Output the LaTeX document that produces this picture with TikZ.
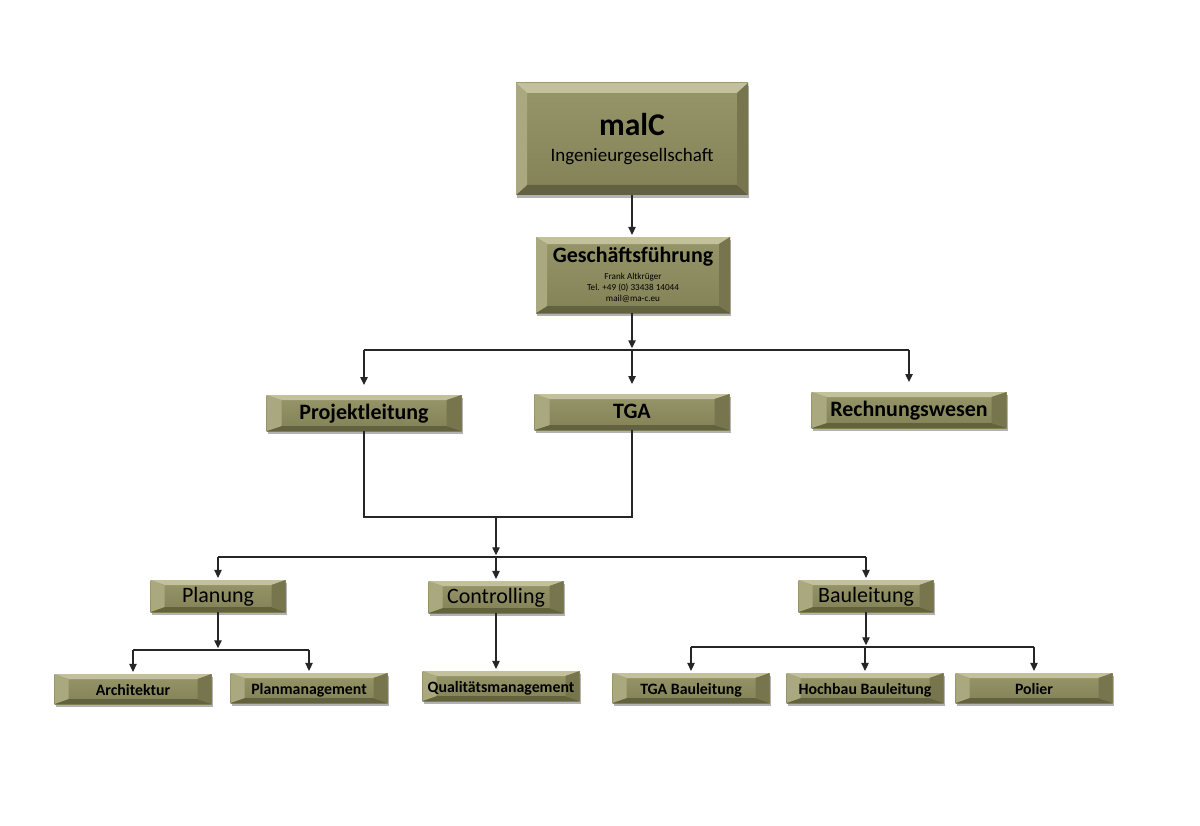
\documentclass[tikz,border=0pt]{standalone}
\usepackage{fontspec}
\setmainfont{Carlito}
\usetikzlibrary{arrows.meta, shadows}

\definecolor{faceTop}{HTML}{979669}
\definecolor{faceBot}{HTML}{838257}
\definecolor{bevTop}{HTML}{C2C19B}
\definecolor{bevBot}{HTML}{626140}
\definecolor{bevLeft}{HTML}{A9A87F}
\definecolor{bevRight}{HTML}{76754D}

\newcommand\bevel[2]{%
\fill[bevTop] (path picture bounding box.north west) -- (path picture bounding box.north east) -- ([xshift=-#1,yshift=-#2]path picture bounding box.north east) -- ([xshift=#1,yshift=-#2]path picture bounding box.north west) -- cycle;
\fill[bevBot] (path picture bounding box.south west) -- (path picture bounding box.south east) -- ([xshift=-#1,yshift=#2]path picture bounding box.south east) -- ([xshift=#1,yshift=#2]path picture bounding box.south west) -- cycle;
\fill[bevLeft] (path picture bounding box.north west) -- ([xshift=#1,yshift=-#2]path picture bounding box.north west) -- ([xshift=#1,yshift=#2]path picture bounding box.south west) -- (path picture bounding box.south west) -- cycle;
\fill[bevRight] (path picture bounding box.north east) -- ([xshift=-#1,yshift=-#2]path picture bounding box.north east) -- ([xshift=-#1,yshift=#2]path picture bounding box.south east) -- (path picture bounding box.south east) -- cycle;
}

\begin{document}
\begin{tikzpicture}[
orgbox/.style={draw=none, top color=faceTop, bottom color=faceBot, inner sep=0pt, text=black, drop shadow={shadow xshift=0.02cm, shadow yshift=-0.06cm, opacity=0.3, fill=black}},
bigbox/.style={orgbox, align=center, minimum width=4.64cm, minimum height=2.24cm, path picture={\bevel{0.22cm}{0.2cm}}, font=\fontsize{10.8pt}{13.5pt}\selectfont},
gfbox/.style={orgbox, align=center, minimum width=3.88cm, minimum height=1.52cm, path picture={\bevel{0.22cm}{0.14cm}}, font=\fontsize{5.2pt}{6.3pt}\selectfont},
headbox/.style={orgbox, minimum width=3.9cm, minimum height=0.72cm, text height=1.65ex, text depth=0pt, path picture={\bevel{0.3cm}{0.1cm}}, font=\fontsize{12.5pt}{14pt}\selectfont\bfseries},
deptbox/.style={orgbox, minimum width=2.7cm, minimum height=0.64cm, text height=1.6ex, text depth=0pt, path picture={\bevel{0.28cm}{0.1cm}}, font=\fontsize{12.5pt}{14pt}\selectfont},
unitbox/.style={orgbox, minimum width=3.14cm, minimum height=0.6cm, text height=1.6ex, text depth=0pt, path picture={\bevel{0.28cm}{0.1cm}}, font=\fontsize{9pt}{10pt}\selectfont\bfseries},
conn/.style={draw=black!85, line width=0.6pt},
arr/.style={conn, -{Triangle[length=4.5pt, width=4.2pt]}, shorten >=1pt}
]
\useasboundingbox (0cm, 0cm) rectangle (24cm, 16.5cm);
\node[bigbox] (firm) at (12.64cm, 13.72cm) {{\fontsize{18pt}{19pt}\selectfont\bfseries malC}\\[1pt]Ingenieurgesellschaft};
\node[gfbox] (gf) at (12.66cm, 11.0cm) {{\fontsize{12.5pt}{14pt}\selectfont\bfseries Geschäftsführung}\\[3.5pt]Frank Altkrüger\\Tel. +49 (0) 33438 14044\\mail@ma-c.eu};
\node[headbox] (pl) at (7.28cm, 8.24cm) {Projektleitung};
\node[headbox] (tga) at (12.64cm, 8.26cm) {TGA};
\node[headbox] (rw) at (18.18cm, 8.30cm) {Rechnungswesen};
\node[deptbox] (plan) at (4.36cm, 4.58cm) {Planung};
\node[deptbox] (ctrl) at (9.92cm, 4.56cm) {Controlling};
\node[deptbox] (bau) at (17.32cm, 4.58cm) {Bauleitung};
\node[unitbox] (arch) at (2.66cm, 2.72cm) {Architektur};
\node[unitbox] (pm) at (6.18cm, 2.74cm) {Planmanagement};
\node[unitbox] (qm) at (10.02cm, 2.78cm) {Qualitätsmanagement};
\node[unitbox] (tgab) at (13.82cm, 2.74cm) {TGA Bauleitung};
\node[unitbox] (hb) at (17.30cm, 2.74cm) {Hochbau Bauleitung};
\node[unitbox] (pol) at (20.68cm, 2.74cm) {Polier};

\coordinate (gfjoin) at (12.64cm, 9.50cm);
\coordinate (pljoin) at (9.92cm, 6.16cm);
\coordinate (depjoin) at (9.92cm, 5.36cm);
\coordinate (planjoin) at (4.36cm, 3.50cm);
\coordinate (baujoin) at (17.32cm, 3.56cm);

\draw[arr] (firm.south -| gfjoin) -- (gf.north -| gfjoin);
\draw[arr] (gf.south -| gfjoin) -- (gfjoin);
\draw[conn] (gfjoin -| pl.north) -- (gfjoin -| rw.north);
\draw[arr, shorten >=5.5pt] (gfjoin -| pl.north) -- (pl.north);
\draw[arr, shorten >=5.5pt] (gfjoin -| tga.north) -- (tga.north);
\draw[arr, shorten >=5.5pt] (gfjoin -| rw.north) -- (rw.north);
\draw[conn] (pl.south) |- (pljoin) -| (tga.south);
\draw[arr] (pljoin) -- (depjoin);
\draw[conn] (depjoin -| plan.north) -- (depjoin -| bau.north);
\draw[arr] (depjoin -| plan.north) -- (plan.north);
\draw[arr] (depjoin -| ctrl.north) -- (ctrl.north);
\draw[arr] (depjoin -| bau.north) -- (bau.north);
\draw[arr] (plan.south) -- (planjoin);
\draw[conn] (planjoin -| arch.north) -- (planjoin -| pm.north);
\draw[arr] (planjoin -| arch.north) -- (arch.north);
\draw[arr] (planjoin -| pm.north) -- (pm.north);
\draw[arr] (ctrl.south) -- (ctrl.south |- qm.north);
\draw[arr] (bau.south) -- (baujoin);
\draw[conn] (baujoin -| tgab.north) -- (baujoin -| pol.north);
\draw[arr] (baujoin -| tgab.north) -- (tgab.north);
\draw[arr] (baujoin -| hb.north) -- (hb.north);
\draw[arr] (baujoin -| pol.north) -- (pol.north);
\end{tikzpicture}
\end{document}
